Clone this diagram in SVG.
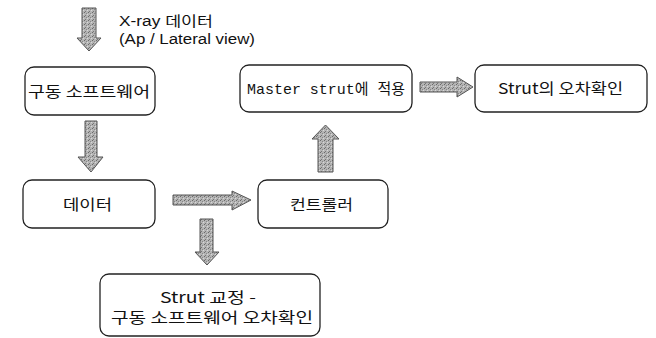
<svg xmlns="http://www.w3.org/2000/svg" width="656" height="338" viewBox="0 0 656 338">
<defs>
<pattern id="spk" width="4" height="4" patternUnits="userSpaceOnUse">
<rect width="4" height="4" fill="#b4b4b4"/>
<rect x="0" y="0" width="1" height="1" fill="#6a6a6a"/>
<rect x="2" y="1" width="1" height="1" fill="#888"/>
<rect x="1" y="3" width="1" height="1" fill="#777"/>
<rect x="3" y="2" width="1" height="1" fill="#d8d8d8"/>
</pattern>
</defs>
<style>
.box{fill:#fff;stroke:#222;stroke-width:1.3}
.arr{fill:url(#spk);stroke:#555;stroke-width:1}
.t{font-family:"Noto Sans CJK KR","Noto Sans",sans-serif;font-size:15px;fill:#111}
.l{font-family:"Liberation Sans","Noto Sans CJK KR",sans-serif;font-size:14px;fill:#111}
.m{font-family:"Liberation Mono","Noto Sans CJK KR",monospace;font-size:15px;fill:#111}
</style>
<rect width="656" height="338" fill="#fff"/>
<g id="connectors">
<path class="arr" d="M82,8 H96 V38 H101 L89,51 L77,38 H82 Z"/>
<path class="arr" d="M85,121 H97 V157 H103 L91,172 L78,157 H85 Z"/>
<path class="arr" d="M200,219 H213 V252 H219 L207,265 L195,252 H200 Z"/>
<path class="arr" d="M318,172 H333 V139 H339 L325.5,125 L312,139 H318 Z"/>
<path class="arr" d="M173,195 H232 V191 L251,200 L232,210 V205 H173 Z"/>
<path class="arr" d="M420,82 H457 V77 L473,87 L457,97 V92 H420 Z"/>
</g>
<g id="input-label">
<text class="l" x="119" y="26" textLength="94" lengthAdjust="spacingAndGlyphs">X-ray 데이터</text>
<text class="l" x="119" y="44" textLength="136" lengthAdjust="spacingAndGlyphs">(Ap / Lateral view)</text>
</g>
<g id="n-software">
<rect class="box" x="25" y="67" width="130" height="48" rx="9"/>
<text class="t" x="28" y="97" textLength="122" lengthAdjust="spacingAndGlyphs">구동 소프트웨어</text>
</g>
<g id="n-master">
<rect class="box" x="240" y="65" width="172" height="47" rx="9"/>
<text class="m" x="247" y="94" textLength="158" lengthAdjust="spacingAndGlyphs">Master strut에 적용</text>
</g>
<g id="n-strut-error">
<rect class="box" x="475" y="65" width="172" height="47" rx="9"/>
<text class="t" x="498" y="94" textLength="125" lengthAdjust="spacingAndGlyphs">Strut의 오차확인</text>
</g>
<g id="n-data">
<rect class="box" x="23" y="180" width="132" height="48" rx="9"/>
<text class="t" x="63" y="210" textLength="49" lengthAdjust="spacingAndGlyphs">데이터</text>
</g>
<g id="n-controller">
<rect class="box" x="258" y="180" width="130" height="48" rx="9"/>
<text class="t" x="290" y="210" textLength="63" lengthAdjust="spacingAndGlyphs">컨트롤러</text>
</g>
<g id="n-calibration">
<rect class="box" x="100" y="274" width="220" height="62" rx="9"/>
<text class="t"><tspan x="160" y="303" textLength="96" lengthAdjust="spacingAndGlyphs">Strut 교정 -</tspan><tspan x="111" y="323" textLength="202" lengthAdjust="spacingAndGlyphs">구동 소프트웨어 오차확인</tspan></text>
</g>
</svg>
